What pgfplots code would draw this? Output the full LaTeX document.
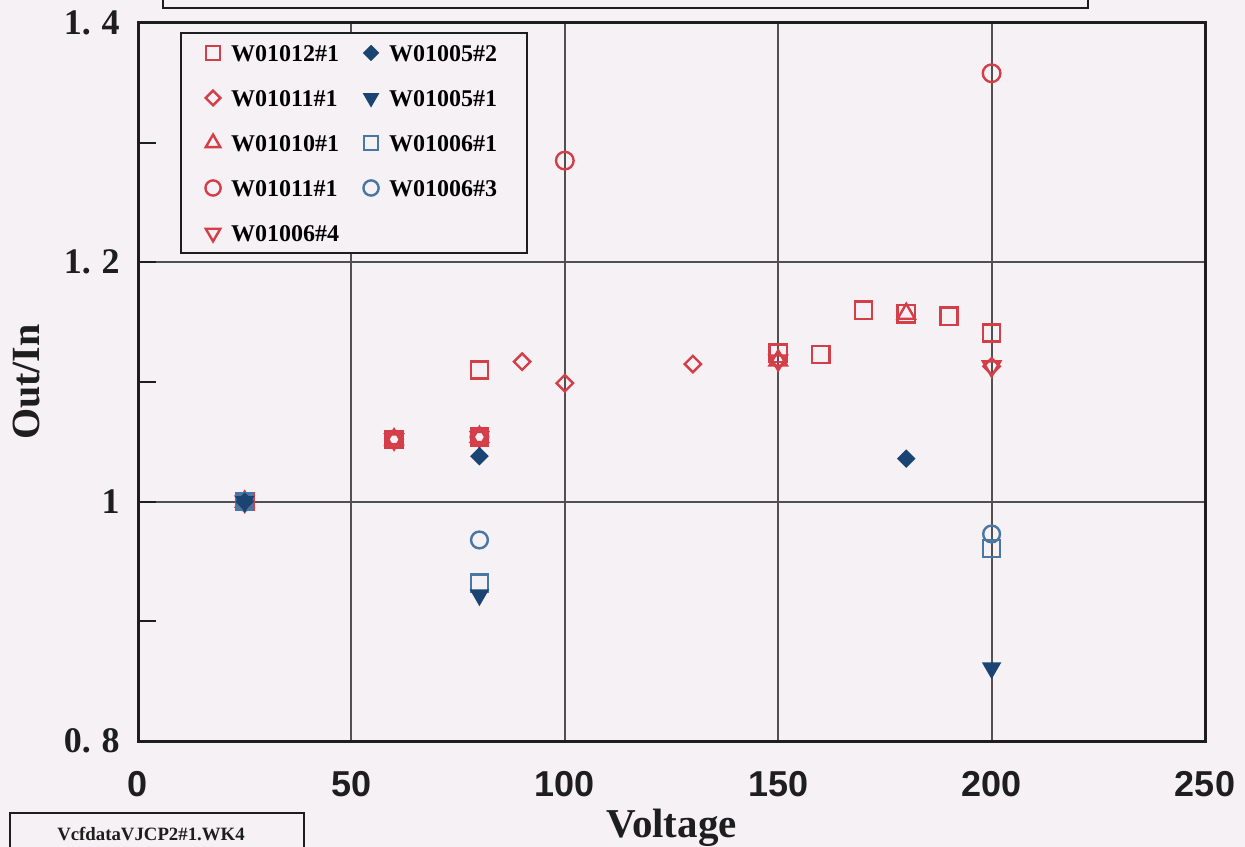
\documentclass[border=0pt]{standalone}
\usepackage{fontspec}
\setmainfont{Liberation Serif}
\newfontfamily\sansfont{Liberation Sans}
\usepackage{pgfplots}
\pgfplotsset{compat=1.18}
\definecolor{bgc}{RGB}{246,241,245}
\definecolor{myred}{RGB}{212,62,72}
\definecolor{dblue}{RGB}{26,68,114}
\definecolor{lblue}{RGB}{72,118,165}
\definecolor{gridc}{RGB}{80,80,80}
\definecolor{framec}{RGB}{30,30,30}
\pgfplotsset{
 rsq/.style={only marks, mark=square, mark size=4.3pt, mark options={draw=myred, fill=none, line width=1.2pt}},
 rdi/.style={only marks, mark=square, mark size=2.9pt, mark options={draw=myred, fill=none, line width=1.2pt, rotate=45}},
 rtr/.style={only marks, mark=triangle, mark size=5pt, mark options={draw=myred, fill=none, line width=1.2pt}},
 rci/.style={only marks, mark=o, mark size=4.4pt, mark options={draw=myred, fill=none, line width=1.2pt}},
 rtd/.style={only marks, mark=triangle, mark size=5pt, mark options={draw=myred, fill=none, line width=1.2pt, rotate=180}},
 bdi/.style={only marks, mark=square*, mark size=3pt, mark options={draw=dblue, fill=dblue, line width=0.6pt, rotate=45}},
 btd/.style={only marks, mark=triangle*, mark size=5pt, mark options={draw=dblue, fill=dblue, line width=0.6pt, rotate=180}},
 bsq/.style={only marks, mark=square, mark size=4.2pt, mark options={draw=lblue, fill=none, line width=1.2pt}},
 bci/.style={only marks, mark=o, mark size=4.2pt, mark options={draw=lblue, fill=none, line width=1.2pt}},
}
\begin{document}
\begin{tikzpicture}
\fill[bgc] (-80pt,-70pt) rectangle (570pt,400pt);
\draw[framec, line width=1.2pt] (12.5pt,366.5pt) rectangle (475pt,400pt);
\begin{axis}[
 at={(0,0)}, anchor=south west,
 scale only axis, width=533.5pt, height=359pt,
 xmin=0, xmax=250, ymin=0.8, ymax=1.4,
 xtick={0,50,100,150,200,250}, xticklabels={0,50,100,150,200,250},
 ytick={0.8,1,1.2,1.4},
 yticklabels={0.\hspace{0.3em}8,1,1.\hspace{0.3em}2,1.\hspace{0.3em}4},
 minor ytick={0.9,1.1,1.3},
 xtick pos=left, ytick pos=left, tick align=inside,
 major tick length=9pt, minor tick length=9pt,
 tick style={framec, line width=0.9pt},
 xtick style={draw=none},
 grid=major, major grid style={gridc, line width=1pt},
 axis line style={framec, line width=1.5pt},
 xticklabel style={font=\sansfont\bfseries\fontsize{18}{18}\selectfont, anchor=base, yshift=-27.5pt, text=framec},
 yticklabel style={font=\bfseries\fontsize{18}{18}\selectfont, anchor=east, inner sep=0pt, xshift=-9pt, text=framec},
 legend columns=2,
 legend image code/.code={\path[draw=none] (-5pt,-5pt) rectangle (5pt,5pt); \draw[#1] plot coordinates {(0pt,0pt)};},
 legend style={at={(0.0394,0.9875)}, anchor=north west, draw=framec, line width=1pt, fill=bgc,
   font=\bfseries\fontsize{12}{12}\selectfont, inner xsep=11pt, inner ysep=5pt,
   row sep=12.5pt, column sep=0pt,
   nodes={inner ysep=0pt, inner xsep=4pt, text height=8.5pt, text depth=0pt},
   /tikz/every even column/.append style={column sep=7pt}},
 legend cell align=left,
]
\addlegendimage{rsq, mark size=3.6pt}\addlegendentry{W01012\#1}
\addlegendimage{bdi, mark size=2.6pt}\addlegendentry{W01005\#2}
\addlegendimage{rdi, mark size=2.6pt}\addlegendentry{W01011\#1}
\addlegendimage{btd, mark size=4.2pt}\addlegendentry{W01005\#1}
\addlegendimage{rtr, mark size=4.2pt}\addlegendentry{W01010\#1}
\addlegendimage{bsq, mark size=3.6pt}\addlegendentry{W01006\#1}
\addlegendimage{rci, mark size=3.8pt}\addlegendentry{W01011\#1}
\addlegendimage{bci, mark size=3.8pt}\addlegendentry{W01006\#3}
\addlegendimage{rtd, mark size=4.2pt}\addlegendentry{W01006\#4}
% W01012#1
\addplot[rsq, forget plot] coordinates {(25,1) (60,1.052) (80,1.110) (80,1.054) (150,1.124) (160,1.123) (170,1.160) (180,1.157) (190,1.155) (200,1.141)};
% W01011#1 diamonds
\addplot[rdi, forget plot] coordinates {(25,1) (60,1.052) (80,1.054) (90,1.117) (100,1.099) (130,1.115) (150,1.118) (200,1.113)};
% W01010#1 triangles
\addplot[rtr, forget plot] coordinates {(25,1) (60,1.052) (80,1.054) (150,1.118) (180,1.157)};
% W01011#1 circles
\addplot[rci, forget plot] coordinates {(25,1) (60,1.052) (80,1.054) (100,1.285) (200,1.358)};
% W01006#4 inverted triangles
\addplot[rtd, forget plot] coordinates {(25,1) (60,1.052) (80,1.054) (150,1.118) (200,1.113)};
% W01006#1 blue squares
\addplot[bsq, forget plot] coordinates {(25,1) (80,0.932) (200,0.961)};
% W01006#3 blue circles
\addplot[bci, forget plot] coordinates {(25,1) (80,0.968) (200,0.973)};
% W01005#2 blue diamonds
\addplot[bdi, forget plot] coordinates {(25,1) (80,1.038) (180,1.036)};
% W01005#1 blue inverted triangles
\addplot[btd, forget plot] coordinates {(25,1) (80,0.922) (200,0.861)};
\end{axis}
\node[font=\bfseries\fontsize{20}{20}\selectfont, text=framec, rotate=90] at (-55.5pt,179.5pt) {Out/In};
\node[font=\bfseries\fontsize{20.5}{20.5}\selectfont, text=framec] at (266.75pt,-43.5pt) {Voltage};
\draw[framec, line width=1.1pt, fill=bgc] (-64pt,-70pt) rectangle (83pt,-36pt);
\node[font=\bfseries\fontsize{9.4}{9.4}\selectfont, text=framec] at (6.5pt,-46.5pt) {VcfdataVJCP2\#1.WK4};
\pgfresetboundingbox
\useasboundingbox (-69pt,-52.5pt) rectangle (553.5pt,370.5pt);
\end{tikzpicture}
\end{document}
